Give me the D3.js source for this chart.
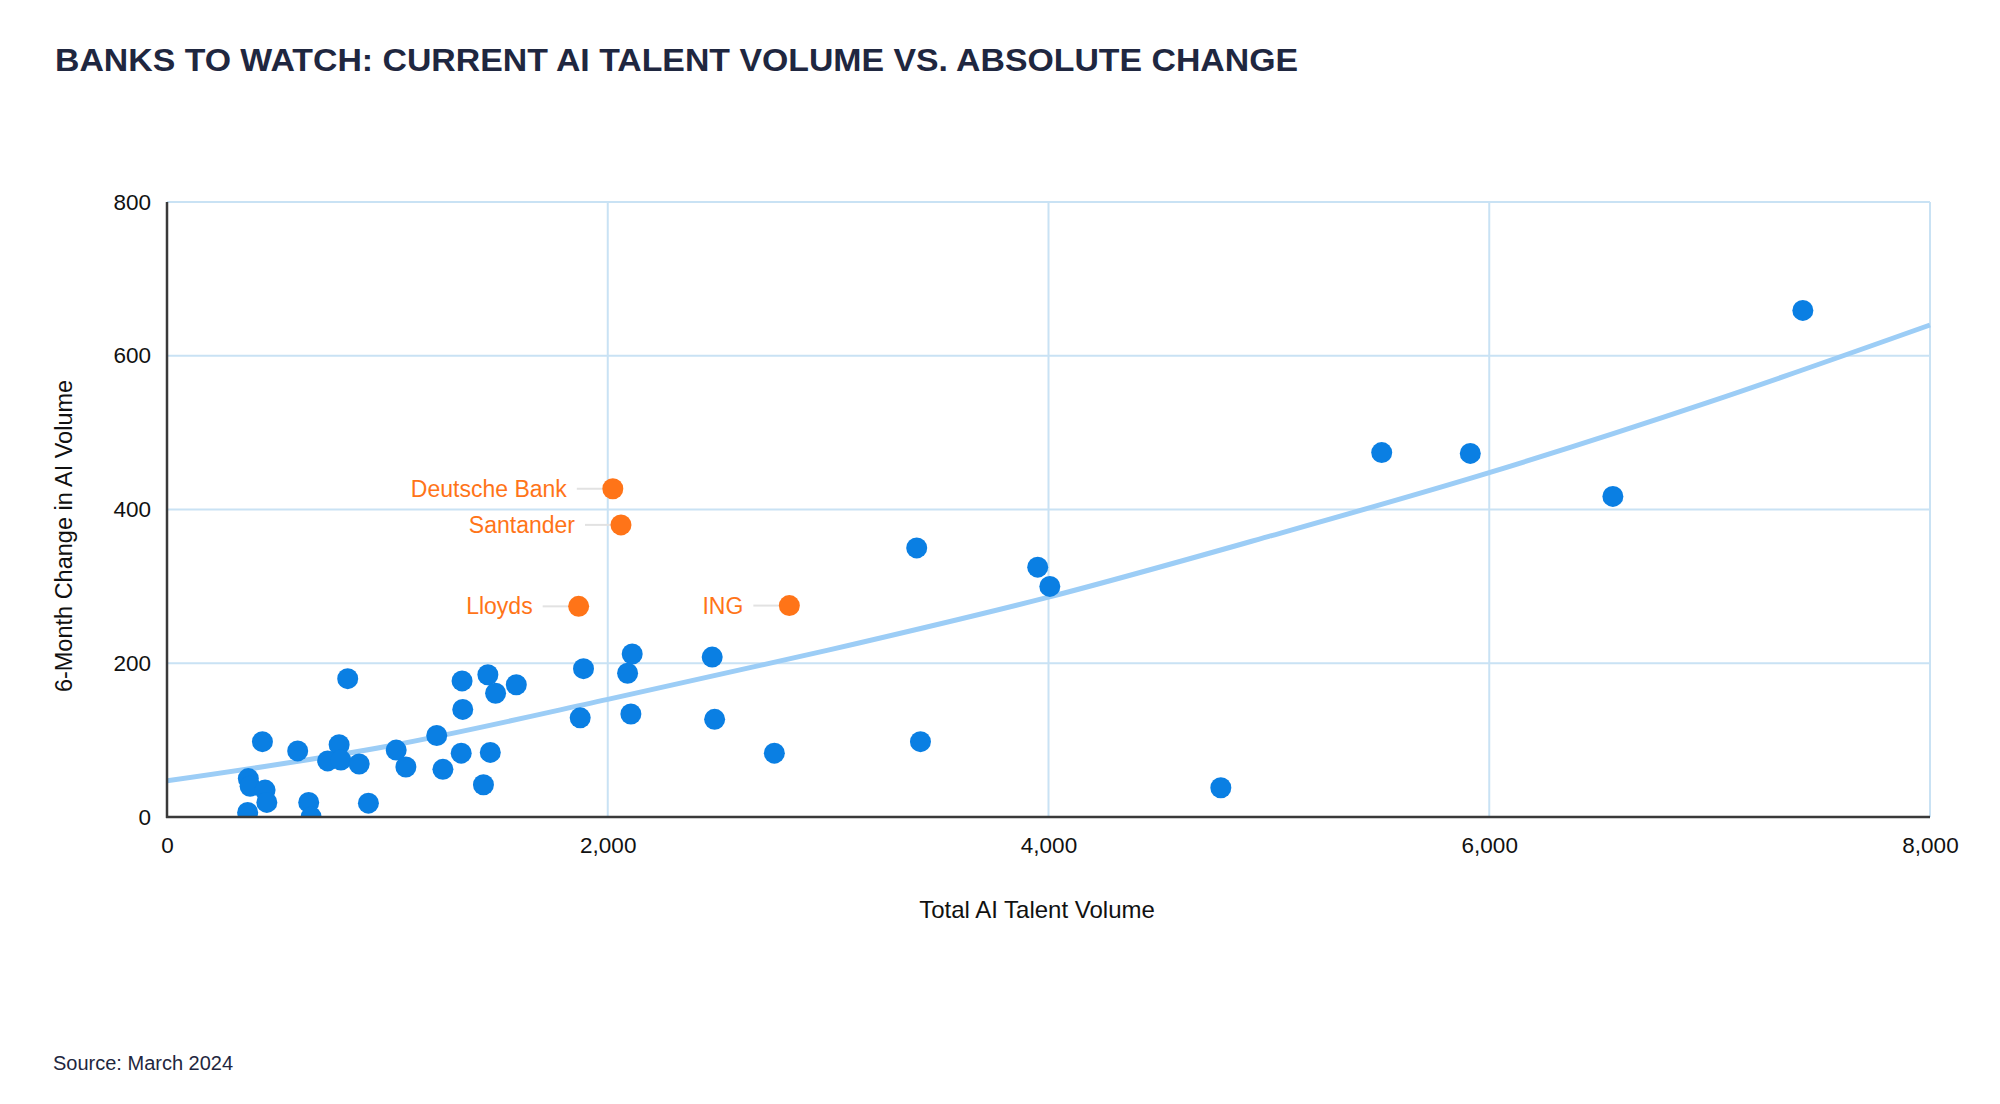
<!DOCTYPE html>
<html>
<head>
<meta charset="utf-8">
<script src="https://cdn.jsdelivr.net/npm/d3@7"></script>
<style>
  html, body { margin: 0; padding: 0; background: #ffffff; }
  svg { display: block; }
  text { font-family: "Liberation Sans", Arial, Helvetica, sans-serif; }
</style>
</head>
<body>
<svg id="chart" width="2000" height="1104"></svg>
<script>
// ---- data ----
const title = "BANKS TO WATCH: CURRENT AI TALENT VOLUME VS. ABSOLUTE CHANGE";
const xTitle = "Total AI Talent Volume";
const yTitle = "6-Month Change in AI Volume";
const source = "Source: March 2024";

const xTicks = [0, 2000, 4000, 6000, 8000];
const yTicks = [0, 200, 400, 600, 800];

// other banks: [total AI talent volume, 6-month change]
const bankX = [820, 433, 593, 369, 377, 445, 453, 366, 643, 654, 914, 781, 729, 789, 872,
               1040, 1084, 1224, 1252, 1339, 1342, 1335, 1456, 1491, 1585, 1467, 1436,
               1890, 1875, 2111, 2090, 2105, 2474, 2485, 2756, 3419, 3402, 3951, 4006,
               4782, 5512, 5914, 6561, 7423];
const bankY = [180, 98, 86, 50, 40, 35, 19, 6, 19, 0, 18, 94, 73, 74, 69,
               87, 65, 106, 62, 177, 140, 83, 185, 161, 172, 84, 42,
               193, 129, 212, 187, 134, 208, 127, 83, 98, 350, 325, 300,
               38, 474, 473, 417, 659];

// highlighted banks
const hlNames = ["Deutsche Bank", "Santander", "Lloyds", "ING"];
const hlX = [2023, 2060, 1868, 2824];
const hlY = [427, 380, 274, 275];

// trend line
const trendX = [0, 1000, 2000, 3000, 4000, 5000, 6000, 7000, 8000];
const trendY = [47, 92, 153, 217, 286, 365, 448, 540, 640];

// ---- layout ----
const svg = d3.select("#chart");
const L = 167, R = 1930, T = 202, B = 817;
const x = d3.scaleLinear().domain([0, 8000]).range([L, R]);
const y = d3.scaleLinear().domain([0, 800]).range([B, T]);

const gridColor = "#c9e2f4";
const axisColor = "#3a3a3a";
const blue = "#0a7fe3";
const orange = "#ff7418";
const navy = "#1f2740";

// title
svg.append("text")
  .attr("x", 55).attr("y", 71)
  .attr("font-size", 32).attr("font-weight", "bold")
  .attr("fill", navy)
  .attr("textLength", 1243).attr("lengthAdjust", "spacingAndGlyphs")
  .text(title);

// gridlines
svg.append("g").selectAll("line.vg")
  .data(xTicks.filter(d => d > 0)).join("line")
  .attr("x1", d => x(d)).attr("x2", d => x(d))
  .attr("y1", T).attr("y2", B)
  .attr("stroke", gridColor).attr("stroke-width", 2);
svg.append("g").selectAll("line.hg")
  .data(yTicks.filter(d => d > 0)).join("line")
  .attr("x1", L).attr("x2", R)
  .attr("y1", d => y(d)).attr("y2", d => y(d))
  .attr("stroke", gridColor).attr("stroke-width", 2);

// axes via d3
const xAxis = d3.axisBottom(x).tickValues(xTicks).tickSize(0).tickPadding(20)
  .tickFormat(d3.format(","));
const yAxis = d3.axisLeft(y).tickValues(yTicks).tickSize(0).tickPadding(16)
  .tickFormat(d3.format(","));

const gx = svg.append("g").attr("transform", `translate(0,${B})`).call(xAxis);
gx.select(".domain").remove();
gx.selectAll("text").attr("font-size", 22.5).attr("fill", "#111")
  .attr("font-family", "'Liberation Sans', Arial, sans-serif");

const gy = svg.append("g").attr("transform", `translate(${L},0)`).call(yAxis);
gy.select(".domain").remove();
gy.selectAll("text").attr("font-size", 22.5).attr("fill", "#111")
  .attr("font-family", "'Liberation Sans', Arial, sans-serif");

// clip for plot
svg.append("defs").append("clipPath").attr("id", "plotClip")
  .append("rect").attr("x", L).attr("y", T - 20).attr("width", R - L + 20).attr("height", B - T + 20);

const plot = svg.append("g").attr("clip-path", "url(#plotClip)");

// trend line
const trend = trendX.map((d, i) => [d, trendY[i]]);
plot.append("path")
  .datum(trend)
  .attr("fill", "none")
  .attr("stroke", "#9ccdf6")
  .attr("stroke-width", 5)
  .attr("d", d3.line().x(d => x(d[0])).y(d => y(d[1])).curve(d3.curveCatmullRom));

// blue dots
const banks = bankX.map((d, i) => ({ x: d, y: bankY[i] }));
plot.append("g").selectAll("circle")
  .data(banks).join("circle")
  .attr("cx", d => x(d.x)).attr("cy", d => y(d.y))
  .attr("r", 10.5).attr("fill", blue);

// highlighted
const hl = hlNames.map((n, i) => ({ name: n, x: hlX[i], y: hlY[i] }));
const hg = svg.append("g");
hg.selectAll("line")
  .data(hl).join("line")
  .attr("x1", d => x(d.x) - 36).attr("x2", d => x(d.x) - 10)
  .attr("y1", d => y(d.y)).attr("y2", d => y(d.y))
  .attr("stroke", "#e2e2e2").attr("stroke-width", 2);
hg.selectAll("circle")
  .data(hl).join("circle")
  .attr("cx", d => x(d.x)).attr("cy", d => y(d.y))
  .attr("r", 10.5).attr("fill", orange);
hg.selectAll("text")
  .data(hl).join("text")
  .attr("x", d => x(d.x) - 46).attr("y", d => y(d.y))
  .attr("dy", "0.35em")
  .attr("text-anchor", "end")
  .attr("font-size", 23).attr("fill", orange)
  .text(d => d.name);

// axis lines (left & bottom)
svg.append("line").attr("x1", L).attr("x2", L).attr("y1", T).attr("y2", B + 1)
  .attr("stroke", axisColor).attr("stroke-width", 2.5);
svg.append("line").attr("x1", L - 1).attr("x2", R).attr("y1", B).attr("y2", B)
  .attr("stroke", axisColor).attr("stroke-width", 2.5);

// axis titles
svg.append("text")
  .attr("x", 1037).attr("y", 918)
  .attr("text-anchor", "middle").attr("font-size", 24).attr("fill", "#111")
  .text(xTitle);
svg.append("text")
  .attr("transform", "translate(72,536) rotate(-90)")
  .attr("text-anchor", "middle").attr("font-size", 23.5).attr("fill", "#111")
  .text(yTitle);

// source
svg.append("text")
  .attr("x", 53).attr("y", 1070)
  .attr("font-size", 20).attr("fill", navy)
  .text(source);
</script>
</body>
</html>
